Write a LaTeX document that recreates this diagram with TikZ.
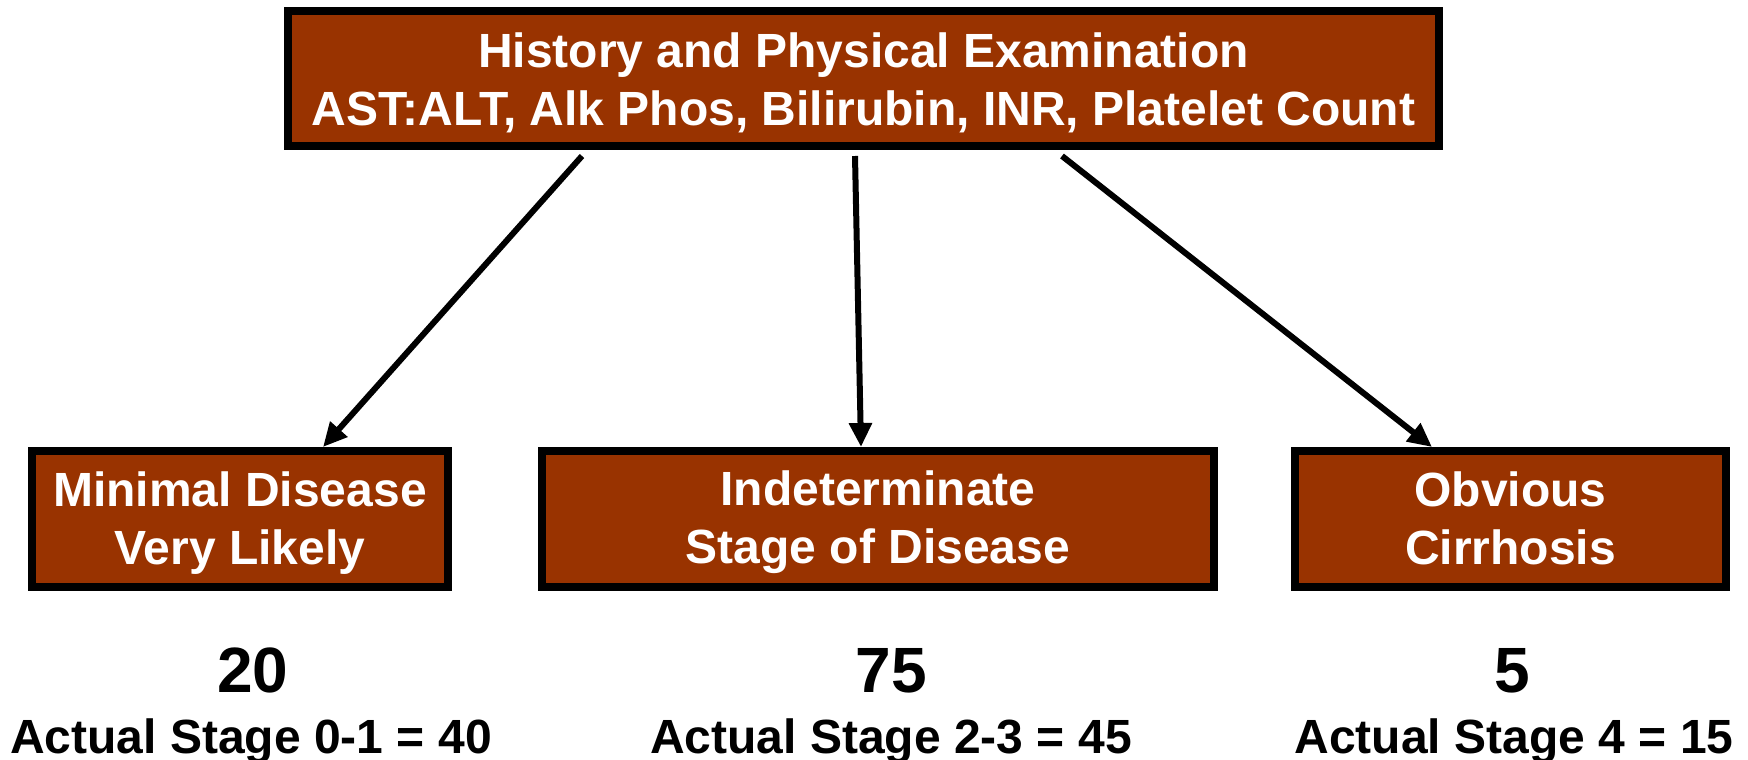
\documentclass[tikz,border=0pt]{standalone}
\usepackage{fontspec}
\setmainfont{Liberation Sans}
\usetikzlibrary{positioning,arrows.meta}
\definecolor{rust}{RGB}{153,51,0}

\begin{document}
\begin{tikzpicture}[x=1pt, y=-1pt,
    box/.style={draw=black, line width=8pt, fill=rust, text=white, align=center,
      inner sep=0pt, font=\fontsize{48}{58}\selectfont\bfseries,
      execute at begin node={\rule{0pt}{100pt}},
      execute at end node={\rule[-10pt]{0pt}{10pt}}},
    headbox/.style={box, execute at begin node={\rule{0pt}{103pt}}},
    count/.style={anchor=base, font=\fontsize{64}{70}\selectfont\bfseries},
    actual/.style={anchor=base, font=\fontsize{48}{58}\selectfont\bfseries},
    arr/.style={line width=6pt, -{Triangle[length=24pt, width=22pt]}}]
  \useasboundingbox (0,0) rectangle (1748,760);
  % the work-up box on top
  \node[headbox, minimum width=1151pt, minimum height=135pt] (hp) at (863.5,78.5)
    {History and Physical Examination\\AST:ALT, Alk Phos, Bilirubin, INR, Platelet Count};
  % the three outcomes
  \node[box, minimum width=416pt, minimum height=136pt] (minimal) at (240,519)
    {Minimal Disease\\Very Likely};
  \node[box, minimum width=672pt, minimum height=136pt] (indet) at (878,519)
    {Indeterminate\\Stage of Disease};
  \node[box, minimum width=431pt, minimum height=136pt] (cirr) at (1510.5,519)
    {Obvious\\Cirrhosis};
  % counts under each box
  \node[count] (n20) at (253,692) {20};
  \node[count] (n75) at (891,692) {75};
  \node[count] (n5) at (1512,692) {5};
  \node[actual] (s01) at (251,753) {Actual Stage 0-1 = 40};
  \node[actual] (s23) at (891,753) {Actual Stage 2-3 = 45};
  \node[actual] (s4) at (1514,753) {Actual Stage 4 = 15};
  % arrows from the top box
  \draw[arr] ([xshift=-281.5pt, yshift=-6pt]hp.south) -- ([xshift=83pt]minimal.north);
  \draw[arr] ([xshift=-8.5pt, yshift=-6pt]hp.south) -- ([xshift=-17pt]indet.north);
  \draw[arr] ([xshift=198.5pt, yshift=-6pt]hp.south) -- ([xshift=-78.5pt]cirr.north);
\end{tikzpicture}
\end{document}
